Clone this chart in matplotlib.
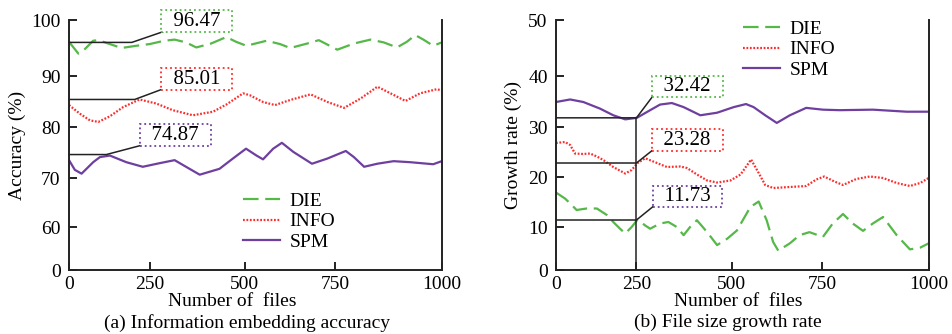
import numpy as np
import matplotlib
matplotlib.use('Agg')
import matplotlib.pyplot as plt

plt.rcParams['font.family'] = ['Liberation Serif', 'DejaVu Serif']

# ---- (a) information embedding accuracy ----
die_a_x = [0, 29, 49, 75, 91, 127, 163, 209, 250, 289, 316, 346, 373, 412, 452, 478, 505, 561, 598, 626,
           673, 705, 755, 794, 833, 864, 895, 918, 938, 957, 980, 1000]
die_a_y = [96.1, 94.0, 94.8, 96.3, 96.4, 95.7, 95.0, 95.4, 95.7, 96.3, 96.5, 96.0, 95.1, 95.8, 96.96, 96.1, 95.4, 96.3, 95.7, 95.0,
           95.8, 96.4, 94.7, 95.8, 96.5, 96.0, 95.1, 96.1, 97.3, 96.5, 95.4, 96.0]
info_a_x = [0, 34, 65, 91, 127, 168, 219, 268, 311, 364, 417, 452, 496, 514, 551, 584, 626, 682, 729, 771,
            810, 849, 880, 915, 949, 988, 1000]
info_a_y = [84.3, 82.6, 81.3, 81.0, 82.1, 83.9, 85.4, 84.6, 83.3, 82.3, 83.0, 84.4, 86.6, 86.25, 84.9, 84.3, 85.3, 86.4, 84.9, 83.75,
            85.6, 87.9, 86.6, 85.1, 86.6, 87.4, 87.2]
spm_a_x = [0, 18, 39, 75, 96, 127, 178, 229, 276, 316, 346, 382, 434, 469, 504, 533, 551, 579, 603, 635,
           686, 728, 775, 794, 818, 849, 887, 926, 980, 1000]
spm_a_y = [73.5, 71.6, 70.85, 73.1, 74.1, 74.4, 73.1, 72.2, 72.9, 73.5, 72.2, 70.65, 71.8, 73.8, 75.75, 74.4, 73.66, 75.75, 76.9, 75.1,
           72.8, 73.8, 75.3, 74.1, 72.2, 72.8, 73.3, 73.1, 72.7, 73.3]

# ---- (b) file size growth rate ----
die_b_x = [0, 28, 49, 64, 95, 127, 158, 178, 199, 215, 235, 253, 273, 286, 312, 334, 356, 374, 391, 409,
           436, 462, 489, 515, 552, 575, 597, 615, 629, 661, 688, 715, 752, 775, 799, 822, 846, 869, 893, 925,
           956, 980, 1000]
die_b_y = [16.9, 15.7, 14.4, 13.4, 13.7, 13.7, 12.4, 11.0, 9.6, 8.5, 10.0, 11.5, 10.3, 9.6, 10.7, 11.0, 10.0, 8.1, 10.0, 11.35,
           8.8, 5.8, 7.3, 9.2, 14.0, 15.1, 11.35, 6.5, 4.5, 6.2, 8.1, 8.8, 7.7, 10.7, 12.6, 10.7, 9.1, 10.7, 12.0, 8.1,
           4.8, 5.2, 6.2]
info_b_x = [0, 28, 44, 59, 85, 106, 127, 147, 178, 215, 235, 253, 273, 304, 330, 365, 383, 409, 436, 462,
            497, 525, 554, 575, 593, 615, 661, 706, 734, 755, 779, 799, 830, 862, 893, 925, 956, 980, 1000]
info_b_y = [26.8, 27.0, 26.4, 24.7, 24.6, 24.7, 24.1, 23.4, 22.0, 20.7, 21.4, 22.8, 23.75, 22.8, 22.0, 22.1, 21.8, 20.5, 19.3, 18.9,
            19.3, 20.5, 23.5, 20.8, 18.4, 17.8, 18.0, 18.2, 19.5, 20.1, 19.1, 18.4, 19.6, 20.1, 19.8, 18.8, 18.2, 18.8, 19.8]
spm_b_x = [0, 44, 85, 137, 178, 215, 251, 286, 312, 343, 374, 418, 462, 506, 540, 561, 593, 625, 661, 706,
           752, 791, 869, 909, 948, 1000]
spm_b_y = [34.9, 35.4, 34.9, 33.6, 32.3, 31.5, 31.8, 33.3, 34.4, 34.7, 33.9, 32.3, 32.8, 33.9, 34.5, 33.9, 32.3, 30.8, 32.3, 33.75,
           33.4, 33.3, 33.4, 33.2, 33.0, 33.0]

# highlighted values at 250 files
mark_a = [96.0, 85.4, 74.6]
mark_b = [31.8, 22.8, 11.4]
labels_a = ['96.47', '85.01', '74.87']
labels_b = ['32.42', '23.28', '11.73']

x_ticks = [0, 250, 500, 750, 1000]
y_ticks_a = [0, 60, 70, 80, 90, 100]
y_ticks_b = [0, 10, 20, 30, 40, 50]

c_die, c_info, c_spm = '#55b848', '#ff2b2b', '#6f3fa0'
box_cols = [c_die, c_info, c_spm]


def piecewise(src, dst):
    def make(a, b):
        a = np.asarray(a, float)
        b = np.asarray(b, float)

        def f(v):
            v = np.asarray(v, float)
            out = np.interp(v, a, b)
            out = np.where(v < a[0], b[0] + (v - a[0]) * (b[1] - b[0]) / (a[1] - a[0]), out)
            out = np.where(v > a[-1], b[-1] + (v - a[-1]) * (b[-1] - b[-2]) / (a[-1] - a[-2]), out)
            return out
        return f
    return make(src, dst), make(dst, src)


# the original axes are not evenly spaced
x_scale = piecewise(x_ticks, [0, 216, 471, 714, 1000])
ya_scale = piecewise(y_ticks_a, [0, 43, 92, 143, 194, 250])
yb_scale = piecewise(y_ticks_b, [0, 43, 93, 143, 194, 250])

fig = plt.figure(figsize=(9.52, 3.34), dpi=100)
ax1 = fig.add_axes([0.0725, 0.1916, 0.3915, 0.7485])
ax2 = fig.add_axes([0.584, 0.1916, 0.3915, 0.7485])

for ax, ysc, yt in [(ax1, ya_scale, y_ticks_a), (ax2, yb_scale, y_ticks_b)]:
    ax.set_xscale('function', functions=x_scale)
    ax.set_yscale('function', functions=ysc)
    ax.set_xlim(0, 1000)
    ax.set_ylim(yt[0], yt[-1])
    ax.set_xticks(x_ticks)
    ax.set_yticks(yt)
    ax.set_xticklabels([str(t) for t in x_ticks])
    ax.set_yticklabels([str(t) for t in yt])
    ax.minorticks_off()
    ax.spines['top'].set_visible(False)
    for s in ['left', 'bottom', 'right']:
        ax.spines[s].set_linewidth(1.4)
        ax.spines[s].set_color('#222222')
    ax.tick_params(direction='in', length=6, width=1.4, labelsize=14, pad=4,
                   top=False, right=False, colors='#222222', labelcolor='black')
    ax.tick_params(axis='y', pad=6)

die_style = dict(color=c_die, lw=1.6, dashes=(7, 3))
info_style = dict(color=c_info, lw=1.6, dashes=(0.8, 0.75))
spm_style = dict(color=c_spm, lw=1.6)

ax1.plot(die_a_x, die_a_y, label='DIE', **die_style)
ax1.plot(info_a_x, info_a_y, label='INFO', **info_style)
ax1.plot(spm_a_x, spm_a_y, label='SPM', **spm_style)

ax2.plot(die_b_x, die_b_y, label='DIE', **die_style)
ax2.plot(info_b_x, info_b_y, label='INFO', **info_style)
ax2.plot(spm_b_x, spm_b_y, label='SPM', **spm_style)

sp = '\u2002'

# callouts (a)
ends_a = [195, 204, 116]
tips_a = [(285, 97.9), (283, 87.4), (224, 76.4)]
boxes_a = [(374, 99.8), (374, 89.4), (318, 78.4)]
for v, e, tip, bx, lab, col in zip(mark_a, ends_a, tips_a, boxes_a, labels_a, box_cols):
    ax1.plot([0, e, tip[0]], [v, v, tip[1]], color='#222222', lw=1.1, clip_on=False, zorder=4)
    ax1.text(bx[0], bx[1], sp + lab + sp, fontsize=15, ha='center', va='center', zorder=5,
             bbox=dict(boxstyle='square,pad=0.06', fc='white', ec=col, ls=':', lw=1.3))

# callouts (b)
ax2.plot([250, 250], [0, mark_b[0]], color='#222222', lw=1.1, zorder=4)
tips_b = [(293, 36.05), (293, 25.4), (293, 14.05)]
boxes_b = [(384, 37.9), (384, 27.4), (384, 16.1)]
for v, tip, bx, lab, col in zip(mark_b, tips_b, boxes_b, labels_b, box_cols):
    ax2.plot([0, 250, tip[0]], [v, v, tip[1]], color='#222222', lw=1.1, zorder=4)
    ax2.text(bx[0], bx[1], sp + lab + sp, fontsize=15, ha='center', va='center', zorder=5,
             bbox=dict(boxstyle='square,pad=0.06', fc='white', ec=col, ls=':', lw=1.3))

leg_kw = dict(frameon=False, fontsize=14, handlelength=1.9, handletextpad=0.5,
              labelspacing=0.16, borderpad=0, borderaxespad=0, loc='center left')
ax1.legend(bbox_to_anchor=(0.467, 0.194), **leg_kw)
ax2.legend(bbox_to_anchor=(0.502, 0.882), **leg_kw)

ax1.set_ylabel('Accuracy (%)', fontsize=14, labelpad=4)
ax2.set_ylabel('Growth rate (%)', fontsize=14, labelpad=4)
ax1.text(0.437, -0.126, 'Number of  files', transform=ax1.transAxes, fontsize=14, ha='center', va='center')
ax2.text(0.488, -0.126, 'Number of  files', transform=ax2.transAxes, fontsize=14, ha='center', va='center')
fig.text(0.26, 0.034, '(a) Information embedding accuracy', fontsize=14, ha='center', va='center')
fig.text(0.765, 0.034, '(b) File size growth rate', fontsize=14, ha='center', va='center')

fig.savefig('out.png', dpi=100)
